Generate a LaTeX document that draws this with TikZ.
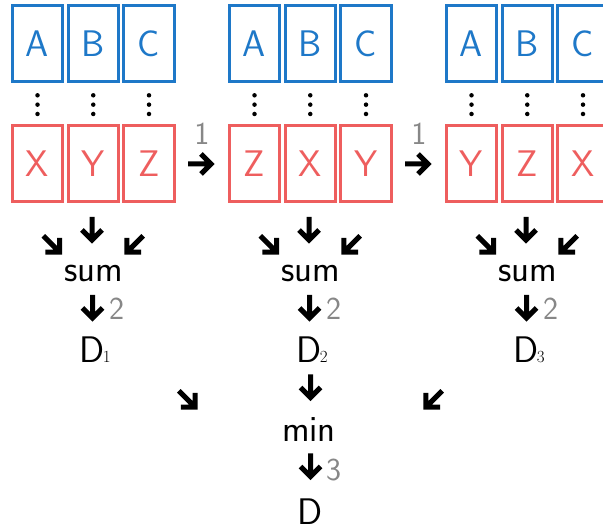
\documentclass[tikz,border=0pt]{standalone}
\usepackage{fontspec}

\definecolor{boxblue}{RGB}{30,120,200}
\definecolor{boxred}{RGB}{238,94,94}
\definecolor{stepgray}{RGB}{135,135,135}

\newcommand\lblfont{\sffamily\fontsize{37}{37}\selectfont}
\newcommand\numfont{\sffamily\fontsize{32}{32}\selectfont}
\newcommand\subdigit[1]{{\rmfamily\fontsize{17}{17}\selectfont\kern-1.5pt#1}}

\tikzset{
  cell/.style={draw, line width=3pt, minimum width=50.5pt, minimum height=76pt,
    inner sep=0pt, font=\lblfont},
  keycell/.style={cell, draw=boxblue, text=boxblue},
  valcell/.style={cell, draw=boxred, text=boxred},
  word/.style={inner sep=0pt, font=\lblfont, anchor=base},
  stepno/.style={inner sep=0pt, font=\numfont, text=stepgray, anchor=base west},
  dotlink/.style={line width=4.5pt, line cap=round, dash pattern=on 0pt off 9.35pt,
    shorten <=11.8pt, shorten >=10pt},
  pics/heavyarrow/.style={code={
    \draw[line width=5pt, miter limit=10] (0,-13) -- (0,10) (-10,0) -- (0,10) -- (10,0);
  }}
}

\begin{document}
\begin{tikzpicture}[x=1pt, y=-1pt]
  \useasboundingbox (0,0) rectangle (603,529);
  \clip (0,0) rectangle (603,529);

  % three key/value tables, each summed into D_i
  \foreach \g/\ox/\p/\q/\r in {1/0/X/Y/Z, 2/217/Z/X/Y, 3/434/Y/Z/X} {
    \node[keycell] (k\g a) at (37.5+\ox, 44) {A};
    \node[keycell] (k\g b) at (93.25+\ox, 44) {B};
    \node[keycell] (k\g c) at (149+\ox, 44) {C};
    \node[valcell] (v\g a) at (37.5+\ox, 164) {\p};
    \node[valcell] (v\g b) at (93.25+\ox, 164) {\q};
    \node[valcell] (v\g c) at (149+\ox, 164) {\r};
    \draw[dotlink] (k\g a) -- (v\g a);
    \draw[dotlink] (k\g b) -- (v\g b);
    \draw[dotlink] (k\g c) -- (v\g c);

    \pic[rotate=45] at (52.5+\ox, 245) {heavyarrow};
    \pic at (92+\ox, 230) {heavyarrow};
    \pic[rotate=-45] at (134+\ox, 245) {heavyarrow};
    \node[word] (s\g) at (94+\ox, 282) {sum};

    \pic at (92.5+\ox, 308) {heavyarrow};
    \node[stepno] (n\g) at (109+\ox, 320) {2};
    \node[word, anchor=base west] (d\g) at (79+\ox, 363) {D\subdigit{\g}};
  }

  % shifts between tables
  \pic[rotate=90] at (201, 164) {heavyarrow};
  \node[stepno, anchor=base] (t1) at (202, 145) {1};
  \pic[rotate=90] at (418, 164) {heavyarrow};
  \node[stepno, anchor=base] (t2) at (419, 145) {1};

  % minimum over the sums
  \pic[rotate=45] at (188, 400) {heavyarrow};
  \pic at (310.5, 387.5) {heavyarrow};
  \pic[rotate=-45] at (433, 400) {heavyarrow};
  \node[word] (mn) at (309, 442) {min};
  \pic at (310.5, 466.5) {heavyarrow};
  \node[stepno] (n4) at (326, 480) {3};
  \node[word] (dd) at (310, 524) {D};
\end{tikzpicture}
\end{document}
